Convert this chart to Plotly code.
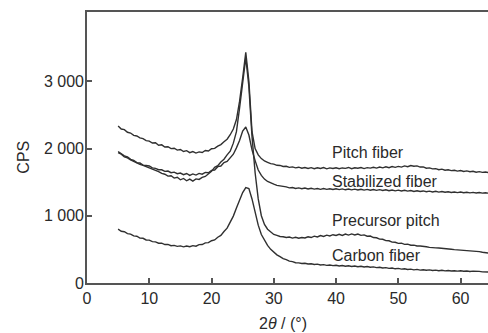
import plotly.graph_objects as go

# 2-theta scan grid (degrees), 0.5 deg steps from 5.0 to 64.5
THETA_START = 5.0
THETA_STEP = 0.5

pitch_fiber = [
    2335, 2290, 2280, 2242, 2230, 2195, 2186, 2158, 2146, 2118,
    2110, 2082, 2085, 2048, 2055, 2022, 2026, 1998, 2004, 1976,
    1986, 1955, 1968, 1938, 1955, 1932, 1950, 1940, 1970, 1962,
    1996, 2002, 2036, 2058, 2100, 2138, 2205, 2290, 2430, 2700,
    3050, 3430, 3000, 2250, 2000, 1905, 1850, 1815, 1795, 1775,
    1768, 1750, 1748, 1732, 1735, 1720, 1727, 1712, 1722, 1706,
    1718, 1704, 1716, 1700, 1714, 1703, 1716, 1698, 1712, 1702,
    1714, 1700, 1711, 1705, 1718, 1700, 1713, 1707, 1717, 1702,
    1715, 1708, 1721, 1709, 1724, 1713, 1729, 1715, 1731, 1720,
    1734, 1723, 1741, 1729, 1746, 1736, 1742, 1724, 1727, 1707,
    1712, 1697, 1700, 1685, 1693, 1677, 1684, 1671, 1676, 1664,
    1672, 1659, 1667, 1654, 1661, 1648, 1656, 1645, 1651, 1642,
]

stabilized_fiber = [
    1955, 1922, 1890, 1875, 1838, 1825, 1790, 1785, 1752, 1748,
    1740, 1712, 1705, 1685, 1684, 1660, 1665, 1640, 1648, 1625,
    1635, 1610, 1628, 1600, 1622, 1605, 1630, 1618, 1645, 1640,
    1675, 1680, 1730, 1740, 1790, 1808, 1870, 1915, 2010, 2120,
    2260, 2320, 2200, 1980, 1820, 1680, 1600, 1545, 1510, 1485,
    1470, 1452, 1447, 1432, 1430, 1415, 1420, 1406, 1414, 1402,
    1412, 1398, 1408, 1396, 1405, 1393, 1404, 1392, 1402, 1390,
    1401, 1389, 1399, 1386, 1397, 1385, 1395, 1383, 1394, 1382,
    1392, 1380, 1390, 1377, 1388, 1375, 1386, 1372, 1383, 1370,
    1381, 1368, 1378, 1366, 1375, 1362, 1372, 1360, 1369, 1357,
    1366, 1354, 1363, 1351, 1360, 1349, 1357, 1347, 1354, 1344,
    1352, 1342, 1349, 1340, 1347, 1338, 1345, 1336, 1343, 1335,
]

precursor_pitch = [
    1940, 1915, 1875, 1860, 1830, 1805, 1785, 1765, 1748, 1730,
    1718, 1690, 1672, 1655, 1630, 1618, 1590, 1595, 1560, 1572,
    1535, 1555, 1520, 1545, 1515, 1548, 1540, 1570, 1585, 1625,
    1660, 1720, 1745, 1800, 1840, 1905, 1960, 2080, 2250, 2600,
    2980, 3350, 2920, 2180, 1640, 1250, 1000, 870, 800, 755,
    722, 708, 692, 688, 676, 684, 668, 679, 665, 677,
    670, 688, 676, 697, 684, 706, 692, 712, 700, 718,
    706, 724, 708, 728, 712, 730, 715, 728, 708, 715,
    695, 698, 676, 672, 652, 650, 630, 628, 608, 606,
    590, 592, 575, 578, 562, 563, 550, 551, 540, 539,
    530, 531, 522, 520, 513, 511, 505, 502, 497, 494,
    490, 488, 484, 480, 478, 470, 466, 458, 452, 446,
]

carbon_fiber = [
    800, 770, 762, 735, 728, 700, 695, 668, 665, 640,
    638, 615, 612, 592, 592, 572, 574, 555, 560, 545,
    552, 538, 550, 540, 556, 548, 570, 572, 596, 600,
    628, 640, 680, 708, 765, 815, 905, 995, 1115, 1225,
    1345, 1420, 1405, 1250, 1050, 860, 720, 630, 560, 500,
    458, 418, 392, 362, 348, 326, 318, 302, 300, 290,
    293, 282, 286, 275, 280, 268, 273, 262, 268, 258,
    264, 254, 260, 250, 257, 246, 253, 242, 249, 238,
    245, 234, 240, 229, 235, 223, 229, 217, 223, 211,
    217, 206, 211, 201, 206, 196, 202, 192, 198, 189,
    195, 186, 192, 183, 189, 181, 186, 178, 183, 176,
    181, 174, 179, 171, 176, 169, 173, 166, 170, 164,
]

series_names = ["Pitch fiber", "Stabilized fiber", "Precursor pitch", "Carbon fiber"]
series_values = [pitch_fiber, stabilized_fiber, precursor_pitch, carbon_fiber]
label_x = [39, 39, 39, 39]
label_y = [1935, 1515, 935, 415]

x_tickvals = [0, 10, 20, 30, 40, 50, 60]
y_tickvals = [0, 1000, 2000, 3000]
y_ticktext = ["0", "1 000", "2 000", "3 000"]

n = len(pitch_fiber)
theta = [THETA_START + THETA_STEP * i for i in range(n)]

FONT = "Liberation Sans, Arial, sans-serif"
INK = "#2a2a2a"
AX = "#555555"

fig = go.Figure()
for name, vals in zip(series_names, series_values):
    fig.add_trace(go.Scatter(
        x=theta, y=vals, mode="lines", name=name,
        line=dict(color="#303030", width=1.4),
        showlegend=False, hoverinfo="skip",
    ))

for name, lx, ly in zip(series_names, label_x, label_y):
    fig.add_annotation(
        x=lx, y=ly, text=name, showarrow=False,
        xanchor="left", yanchor="middle",
        font=dict(family=FONT, size=16, color=INK),
    )

fig.add_annotation(
    xref="paper", yref="paper", x=-0.158, y=0.465,
    text="CPS", textangle=-90, showarrow=False,
    xanchor="center", yanchor="middle",
    font=dict(family=FONT, size=16, color=INK),
)
fig.add_annotation(
    xref="paper", yref="paper", x=0.49, y=-0.148,
    text="2<i>θ</i> / (°)", showarrow=False,
    xanchor="center", yanchor="middle",
    font=dict(family=FONT, size=16, color=INK),
)

fig.update_layout(
    width=488, height=333,
    margin=dict(l=87, r=0, t=12, b=50),
    paper_bgcolor="white", plot_bgcolor="white",
    font=dict(family=FONT, size=16, color=INK),
    xaxis=dict(
        range=[0, 64.4], tickvals=x_tickvals,
        ticks="inside", ticklen=5, tickwidth=1.5, tickcolor=AX,
        showline=True, linecolor=AX, linewidth=1.6, mirror=True,
        showgrid=False, zeroline=False,
        tickfont=dict(family=FONT, size=16, color=INK),
    ),
    yaxis=dict(
        range=[0, 4030], tickvals=y_tickvals, ticktext=y_ticktext,
        ticks="inside", ticklen=5, tickwidth=1.5, tickcolor=AX,
        showline=True, linecolor=AX, linewidth=1.6, mirror=False,
        showgrid=False, zeroline=False,
        tickfont=dict(family=FONT, size=16, color=INK),
        ticklabelstandoff=-2,
    ),
)

fig.write_html("out.html")
